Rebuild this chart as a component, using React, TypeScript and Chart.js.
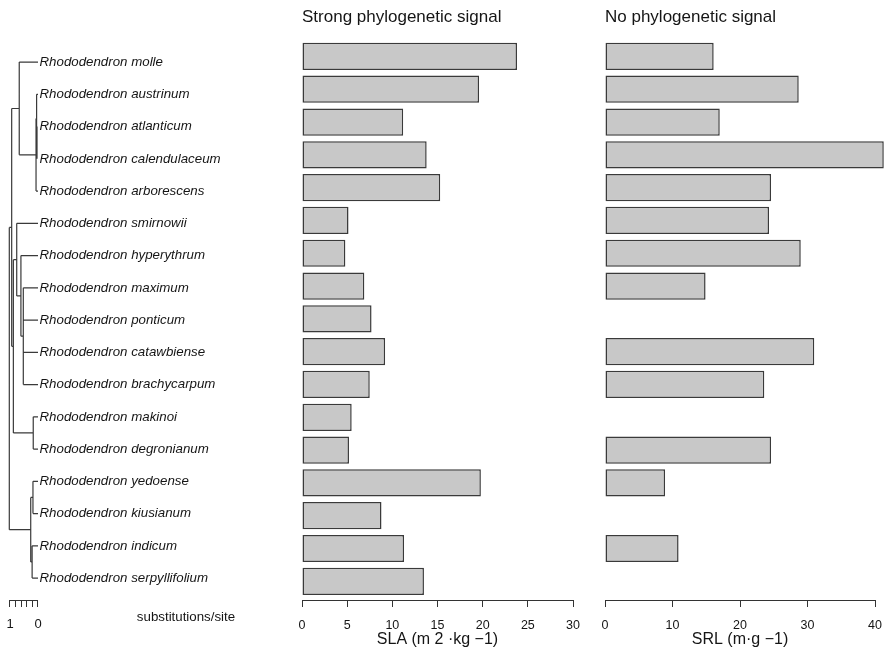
import React, { useEffect, useRef } from "react";
import { Chart, registerables } from "chart.js";

Chart.register(...registerables);

const FONT = "'Liberation Sans', Arial, Helvetica, sans-serif";

const species = [
  "Rhododendron molle",
  "Rhododendron austrinum",
  "Rhododendron atlanticum",
  "Rhododendron calendulaceum",
  "Rhododendron arborescens",
  "Rhododendron smirnowii",
  "Rhododendron hyperythrum",
  "Rhododendron maximum",
  "Rhododendron ponticum",
  "Rhododendron catawbiense",
  "Rhododendron brachycarpum",
  "Rhododendron makinoi",
  "Rhododendron degronianum",
  "Rhododendron yedoense",
  "Rhododendron kiusianum",
  "Rhododendron indicum",
  "Rhododendron serpyllifolium",
];

// SLA (m2·kg-1), strong phylogenetic signal
const slaValues = [23.8, 19.6, 11.2, 13.8, 15.3, 5.15, 4.8, 6.9, 7.7, 9.2, 7.5, 5.5, 5.2, 19.8, 8.8, 11.3, 13.5];
// SRL (m·g-1), no phylogenetic signal (null = missing)
const srlValues: (number | null)[] = [16.1, 28.7, 17.0, 41.3, 24.6, 24.3, 29.0, 14.9, null, 31.0, 23.6, null, 24.6, 8.9, null, 10.9, null];

const slaTicks = [0, 5, 10, 15, 20, 25, 30];
const srlTicks = [0, 10, 20, 30, 40];
const treeScaleTicks = [0, 0.2, 0.4, 0.6, 0.8, 1];

// Tree topology: numbers are tip indices, "nK" refers to internal node K
const treeNodeChildren: (number | string)[][] = [
  [2, 3],
  [1, "n0"],
  ["n1", 4],
  [0, "n2"],
  [7, 8, 9, 10],
  [6, "n4"],
  [5, "n5"],
  [11, 12],
  ["n6", "n7"],
  ["n3", "n8"],
  [13, 14],
  [15, 16],
  ["n10", "n11"],
  ["n9", "n12"],
];
// depth of each internal node (substitutions/site from tips)
const treeNodeDepths = [0.035, 0.05, 0.07, 0.67, 0.525, 0.61, 0.76, 0.17, 0.88, 0.94, 0.18, 0.21, 0.26, 1.025];

function buildTreeSegments() {
  const nodeY: number[] = [];
  const idx = (c: string) => parseInt(c.slice(1), 10);
  const yOf = (c: number | string) => (typeof c === "number" ? c : nodeY[idx(c)]);
  const xOf = (c: number | string) => (typeof c === "number" ? 0 : treeNodeDepths[idx(c)]);
  const pts: { x: number; y: number }[] = [];
  const gap = { x: NaN, y: NaN };
  treeNodeChildren.forEach((ch, k) => {
    const ys = ch.map(yOf);
    nodeY[k] = ys.reduce((a, b) => a + b, 0) / ys.length;
    const d = treeNodeDepths[k];
    pts.push({ x: d, y: Math.min(...ys) }, { x: d, y: Math.max(...ys) }, gap);
    ch.forEach((c) => {
      pts.push({ x: d, y: yOf(c) }, { x: xOf(c), y: yOf(c) }, gap);
    });
  });
  return pts;
}

const textColor = "#151515";

const zeroHPadding = (scale: any) => {
  scale.paddingLeft = 0;
  scale.paddingRight = 0;
};

function barConfig(values: (number | null)[], max: number, ticks: number[], title: string, axisTitle: string): any {
  const data = values
    .map((v, i) => (v === null ? null : { x: v, y: i }))
    .filter((d) => d !== null);
  return {
    type: "bar",
    data: {
      datasets: [
        {
          data,
          backgroundColor: "#c8c8c8",
          borderColor: "#3a3a3a",
          borderWidth: 1.5,
          borderSkipped: false,
          categoryPercentage: 1,
          barPercentage: 0.83,
          clip: false,
        },
      ],
    },
    options: {
      responsive: false,
      animation: false,
      indexAxis: "y",
      events: [],
      layout: { padding: { left: 10, right: 10, top: 0, bottom: 0 } },
      plugins: {
        legend: { display: false },
        tooltip: { enabled: false },
        title: {
          display: true,
          text: title,
          align: "start",
          color: textColor,
          font: { family: FONT, size: 17, weight: "normal", lineHeight: 1.2 },
          padding: { top: 7, bottom: 12.6 },
        },
      },
      scales: {
        y: {
          type: "linear",
          display: false,
          reverse: true,
          offset: false,
          grid: { offset: false },
          min: -0.5,
          max: 16.57,
          afterBuildTicks: (scale: any) => {
            scale.ticks = species.map((_, i) => ({ value: i }));
          },
        },
        x: {
          type: "linear",
          position: "bottom",
          min: 0,
          max,
          offset: false,
          afterBuildTicks: (scale: any) => {
            scale.ticks = ticks.map((v) => ({ value: v }));
          },
          afterFit: (scale: any) => {
            scale.height = 49;
            zeroHPadding(scale);
          },
          grid: { display: true, drawOnChartArea: false, drawTicks: true, tickLength: 7, color: "#333", lineWidth: 1 },
          border: { display: true, color: "#333", width: 1 },
          ticks: {
            padding: 11,
            color: textColor,
            autoSkip: false,
            maxRotation: 0,
            font: { family: FONT, size: 12.5 },
          },
          title: {
            display: true,
            text: axisTitle,
            color: textColor,
            font: { family: FONT, size: 16, lineHeight: 1 },
            padding: { top: 0, bottom: 1 },
          },
        },
      },
    },
  };
}

const subsLabelPlugin = {
  id: "subsLabel",
  afterDraw(chart: any) {
    const ctx = chart.ctx;
    ctx.save();
    ctx.fillStyle = textColor;
    ctx.font = `13.3px ${FONT}`;
    ctx.textAlign = "center";
    ctx.textBaseline = "middle";
    ctx.fillText("substitutions/site", 186, 617);
    ctx.restore();
  },
};

export default function App() {
  const treeRef = useRef<HTMLCanvasElement>(null);
  const slaRef = useRef<HTMLCanvasElement>(null);
  const srlRef = useRef<HTMLCanvasElement>(null);

  useEffect(() => {
    const charts: Chart[] = [];
    if (treeRef.current) {
      charts.push(
        new Chart(treeRef.current, {
          type: "scatter",
          data: {
            datasets: [
              {
                data: buildTreeSegments(),
                showLine: true,
                spanGaps: false,
                borderColor: "#3a3a3a",
                borderWidth: 1.2,
                pointRadius: 0,
                clip: false,
              } as any,
            ],
          },
          plugins: [subsLabelPlugin],
          options: {
            responsive: false,
            animation: false,
            events: [],
            layout: { padding: { left: 9.16, right: 0, top: 46, bottom: 0 } },
            plugins: { legend: { display: false }, tooltip: { enabled: false } },
            scales: {
              x: {
                type: "linear",
                position: "bottom",
                reverse: true,
                min: 0,
                max: 1.03,
                afterBuildTicks: (scale: any) => {
                  scale.ticks = treeScaleTicks.map((v) => ({ value: v }));
                },
                afterFit: (scale: any) => {
                  scale.height = 49;
                  zeroHPadding(scale);
                },
                grid: { display: true, drawOnChartArea: false, drawTicks: true, tickLength: 7, color: "#333", lineWidth: 1 },
                border: { display: true, color: "#333", width: 1 },
                ticks: {
                  padding: 10,
                  color: textColor,
                  autoSkip: false,
                  maxRotation: 0,
                  font: { family: FONT, size: 13 },
                  callback: (v: any) => (v === 1 ? "1" : v === 0 ? "0" : ""),
                },
              },
              y: {
                type: "linear",
                position: "right",
                reverse: true,
                min: -0.5,
                max: 16.68,
                afterBuildTicks: (scale: any) => {
                  scale.ticks = species.map((_, i) => ({ value: i }));
                },
                afterFit: (scale: any) => {
                  scale.width = 252;
                  scale.paddingTop = 0;
                  scale.paddingBottom = 0;
                },
                grid: { display: false, drawTicks: false },
                border: { display: false },
                ticks: {
                  padding: 1.5,
                  color: textColor,
                  autoSkip: false,
                  font: { family: FONT, size: 13.3, style: "italic" },
                  callback: (v: any) => species[v] ?? "",
                },
              },
            },
          } as any,
        })
      );
    }
    if (slaRef.current) {
      charts.push(new Chart(slaRef.current, barConfig(slaValues, 30, slaTicks, "Strong phylogenetic signal", "SLA (m 2 ·kg −1)")));
    }
    if (srlRef.current) {
      charts.push(new Chart(srlRef.current, barConfig(srlValues, 40, srlTicks, "No phylogenetic signal", "SRL (m·g −1)")));
    }
    return () => charts.forEach((c) => c.destroy());
  }, []);

  return (
    <div style={{ position: "absolute", left: 0, top: 0, width: 889, height: 649, background: "#fff", overflow: "hidden" }}>
      <canvas ref={treeRef} width={290} height={649} style={{ position: "absolute", left: 0, top: 0 }} />
      <canvas ref={slaRef} width={291} height={649} style={{ position: "absolute", left: 292, top: 0 }} />
      <canvas ref={srlRef} width={290} height={649} style={{ position: "absolute", left: 595, top: 0 }} />
    </div>
  );
}
